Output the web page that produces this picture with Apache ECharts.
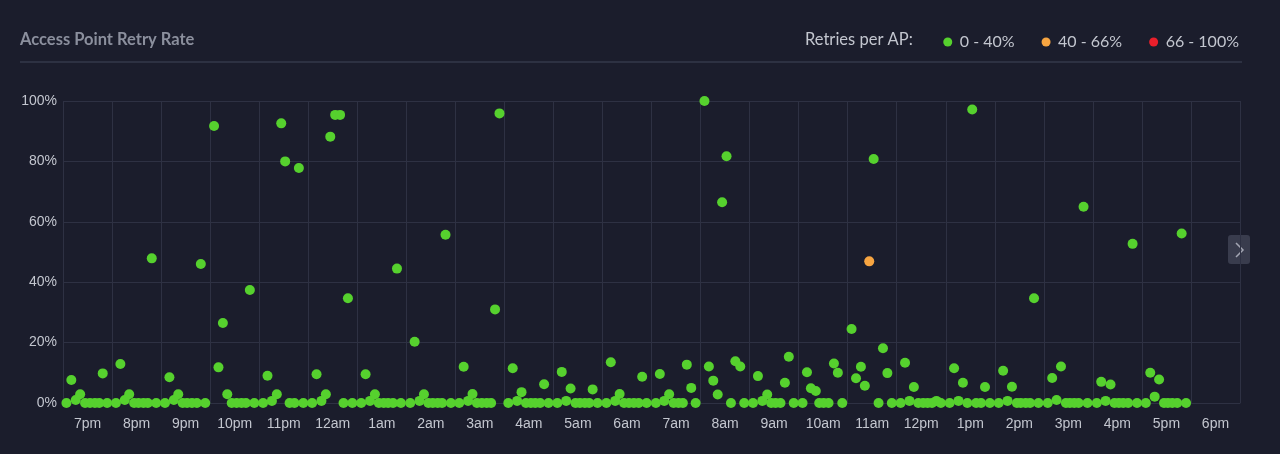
<!DOCTYPE html>
<html>
<head>
<meta charset="utf-8">
<title>Access Point Retry Rate</title>
<script src="https://cdn.jsdelivr.net/npm/echarts@6/dist/echarts.min.js"></script>
<style>
    html, body { margin: 0; padding: 0; background: #1b1d2c; }
    #chart { width: 1280px; height: 454px; }
</style>
</head>
<body>
<div id="chart"></div>
<script>
// label per jam (tengah tiap kolom)
const hourLabels = ['7pm', '8pm', '9pm', '10pm', '11pm', '12am', '1am', '2am', '3am', '4am', '5am', '6am',
    '7am', '8am', '9am', '10am', '11am', '12pm', '1pm', '2pm', '3pm', '4pm', '5pm', '6pm'];

const legendNames = ['0 - 40%', '40 - 66%', '66 - 100%'];

// [jam sejak awal grafik, retry %]
const eveningPoints = [
    [0.07, 0], [0.17, 7.6], [0.26, 1], [0.35, 2.9], [0.45, 0], [0.55, 0], [0.65, 0], [0.74, 0], [0.81, 9.8], [0.90, 0],
    [1.08, 0], [1.17, 12.9], [1.26, 1], [1.35, 2.9], [1.45, 0], [1.54, 0], [1.64, 0], [1.73, 0], [1.81, 47.9], [1.90, 0],
    [2.08, 0], [2.17, 8.5], [2.26, 1], [2.35, 2.9], [2.44, 0], [2.53, 0], [2.63, 0], [2.73, 0], [2.81, 46.0], [2.90, 0],
    [3.08, 91.7], [3.17, 11.8], [3.26, 26.5], [3.35, 2.9], [3.44, 0], [3.54, 0], [3.64, 0], [3.73, 0], [3.81, 37.4], [3.90, 0],
    [4.08, 0], [4.17, 9.0], [4.26, 0.7], [4.36, 2.9], [4.45, 92.6], [4.53, 80.0], [4.62, 0], [4.72, 0], [4.81, 77.8], [4.90, 0]
];

const nightPoints = [
    [5.08, 0], [5.17, 9.5], [5.27, 0.7], [5.36, 2.9], [5.45, 88.2], [5.55, 95.4], [5.65, 95.4], [5.72, 0], [5.81, 34.7], [5.90, 0],
    [6.08, 0], [6.17, 9.5], [6.26, 0.7], [6.36, 2.9], [6.44, 0], [6.54, 0], [6.63, 0], [6.73, 0], [6.81, 44.5], [6.89, 0],
    [7.08, 0], [7.17, 20.3], [7.27, 0.7], [7.36, 2.9], [7.45, 0], [7.54, 0], [7.64, 0], [7.73, 0], [7.80, 55.7], [7.91, 0],
    [8.08, 0], [8.17, 12.0], [8.26, 0.7], [8.35, 3.0], [8.44, 0], [8.54, 0], [8.64, 0], [8.73, 0], [8.81, 31.0], [8.90, 95.9],
    [9.08, 0], [9.17, 11.5], [9.26, 0.7], [9.35, 3.6], [9.44, 0], [9.54, 0], [9.63, 0], [9.73, 0], [9.81, 6.2], [9.90, 0],
    [10.08, 0], [10.17, 10.3], [10.26, 0.7], [10.35, 4.8], [10.45, 0], [10.54, 0], [10.64, 0], [10.73, 0], [10.80, 4.5], [10.90, 0],
    [11.08, 0], [11.17, 13.5], [11.26, 0.7], [11.35, 3.0], [11.44, 0], [11.54, 0], [11.64, 0], [11.74, 0], [11.81, 8.7], [11.90, 0]
];

const morningPoints = [
    [12.09, 0], [12.17, 9.6], [12.26, 0.7], [12.36, 2.9], [12.45, 0], [12.55, 0], [12.64, 0], [12.72, 12.7], [12.81, 5.0], [12.90, 0],
    [13.08, 100], [13.17, 12.1], [13.26, 7.4], [13.35, 2.8], [13.44, 66.5], [13.53, 81.7], [13.62, 0], [13.71, 13.8], [13.81, 12.1], [13.89, 0],
    [14.07, 0], [14.17, 8.9], [14.26, 0.7], [14.36, 2.8], [14.44, 0], [14.53, 0], [14.63, 0], [14.72, 6.7], [14.80, 15.3], [14.90, 0],
    [15.08, 0], [15.17, 10.2], [15.25, 4.9], [15.35, 4.0], [15.42, 0], [15.51, 0], [15.61, 0], [15.72, 13.1], [15.80, 10.0], [15.89, 0],
    [16.08, 24.5], [16.17, 8.2], [16.27, 12.0], [16.35, 5.7], [16.53, 80.8], [16.63, 0], [16.72, 18.1], [16.81, 9.9], [16.90, 0]
];

const afternoonPoints = [
    [17.08, 0], [17.17, 13.3], [17.26, 0.7], [17.35, 5.3], [17.44, 0], [17.54, 0], [17.63, 0], [17.72, 0], [17.81, 0.7], [17.90, 0],
    [18.08, 0], [18.17, 11.5], [18.26, 0.7], [18.35, 6.7], [18.44, 0], [18.54, 97.2], [18.62, 0], [18.72, 0], [18.80, 5.3], [18.90, 0],
    [19.08, 0], [19.17, 10.7], [19.26, 0.7], [19.35, 5.4], [19.45, 0], [19.53, 0], [19.63, 0], [19.72, 0], [19.80, 34.7], [19.89, 0],
    [20.08, 0], [20.17, 8.3], [20.26, 1.0], [20.35, 12.1], [20.45, 0], [20.53, 0], [20.62, 0], [20.71, 0], [20.81, 65.0], [20.89, 0],
    [21.08, 0], [21.17, 7.0], [21.26, 0.7], [21.36, 6.1], [21.44, 0], [21.53, 0], [21.62, 0], [21.72, 0], [21.81, 52.7], [21.90, 0],
    [22.08, 0], [22.17, 10.0], [22.26, 2.1], [22.35, 7.8], [22.45, 0], [22.53, 0], [22.62, 0], [22.72, 0], [22.81, 56.1], [22.90, 0]
];

const orangePoints = [[16.44, 46.9]];
const redPoints = [];

const greenPoints = eveningPoints.concat(nightPoints, morningPoints, afternoonPoints);

const chart = echarts.init(document.getElementById('chart'));

const gridColor = '#2e3143';
const labelColor = '#c3c6cf';

const option = {
    backgroundColor: '#1b1d2c',
    animation: false,
    grid: { left: 63, right: 40, top: 101, bottom: 51 },
    legend: {
        data: legendNames,
        right: 36,
        top: 29,
        icon: 'circle',
        itemWidth: 14,
        itemHeight: 9,
        itemGap: 27,
        textStyle: { color: labelColor, fontFamily: 'Lato', fontSize: 16 }
    },
    xAxis: [
        {
            type: 'value',
            min: 0,
            max: 24,
            interval: 1,
            axisLabel: { show: false },
            axisTick: { show: false },
            axisLine: { show: true, lineStyle: { color: gridColor } },
            splitLine: { show: true, lineStyle: { color: gridColor, width: 1 } }
        },
        {
            type: 'category',
            data: hourLabels,
            position: 'bottom',
            boundaryGap: true,
            axisLine: { show: false },
            axisTick: { show: false },
            splitLine: { show: false },
            axisLabel: { color: labelColor, fontFamily: 'Liberation Sans', fontSize: 14, margin: 14 }
        }
    ],
    yAxis: {
        type: 'value',
        min: 0,
        max: 100,
        interval: 20,
        axisLine: { show: false },
        axisTick: { show: false },
        axisLabel: { formatter: '{value}%', color: labelColor, fontFamily: 'Liberation Sans', fontSize: 14, margin: 6 },
        splitLine: { lineStyle: { color: gridColor, width: 1 } }
    },
    series: [
        {
            name: legendNames[0],
            type: 'scatter',
            xAxisIndex: 0,
            symbolSize: 10,
            itemStyle: { color: '#56d12e', opacity: 1 },
            data: greenPoints
        },
        {
            name: legendNames[1],
            type: 'scatter',
            xAxisIndex: 0,
            symbolSize: 10,
            itemStyle: { color: '#f7a541', opacity: 1 },
            data: orangePoints
        },
        {
            name: legendNames[2],
            type: 'scatter',
            xAxisIndex: 0,
            symbolSize: 10,
            itemStyle: { color: '#ea1f2b', opacity: 1 },
            data: redPoints
        }
    ],
    graphic: [
        {
            type: 'text',
            left: 20,
            top: 31,
            style: { text: 'Access Point Retry Rate', fill: '#8b8f9d', font: 'bold 16.5px Lato' }
        },
        {
            type: 'text',
            left: 805,
            top: 31,
            style: { text: 'Retries per AP:', fill: labelColor, font: '16.5px Lato' }
        },
        {
            type: 'line',
            shape: { x1: 20, y1: 62, x2: 1242, y2: 62 },
            style: { stroke: '#35384a', lineWidth: 1.5 }
        },
        {
            type: 'rect',
            shape: { x: 1228, y: 235, width: 22, height: 29, r: 3 },
            style: { fill: '#393c4d' }
        },
        {
            type: 'polyline',
            shape: { points: [[1236, 243], [1243, 250], [1236, 257]] },
            style: { stroke: '#a3a6b3', lineWidth: 1.5, fill: null }
        }
    ]
};

chart.setOption(option);
</script>
</body>
</html>
